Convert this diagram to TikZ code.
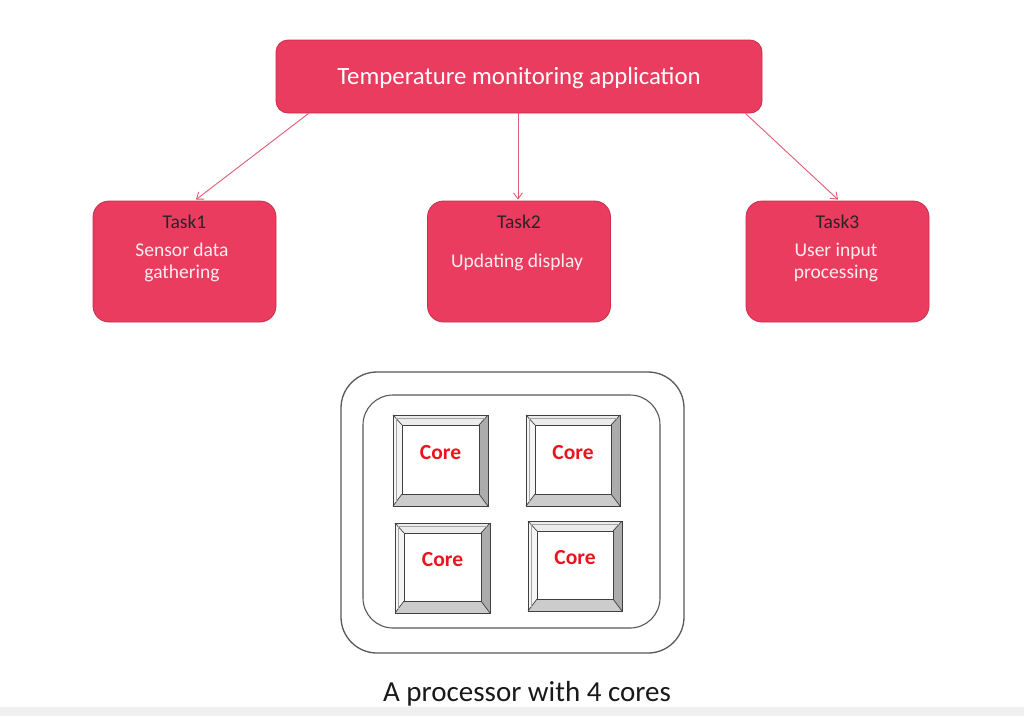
\documentclass[tikz,border=0pt]{standalone}
\usepackage{fontspec}
\setmainfont{Carlito}
\usetikzlibrary{arrows.meta,calc}
\definecolor{boxred}{RGB}{234,60,94}
\definecolor{boxedge}{RGB}{205,45,75}
\definecolor{arrowpink}{RGB}{226,92,114}
\definecolor{txtlight}{RGB}{255,236,240}
\definecolor{coretxt}{RGB}{235,20,30}
\newcommand\corebox[5]{%
  \fill[gray!8]  (#2,#3) -- (#2+9,#3+10) -- (#2+9,#5-12) -- (#2,#5) -- cycle;
  \fill[gray!15] (#2,#3) -- (#4,#3) -- (#4-9,#3+10) -- (#2+9,#3+10) -- cycle;
  \fill[gray!65] (#4,#3) -- (#4,#5) -- (#4-9,#5-12) -- (#4-9,#3+10) -- cycle;
  \fill[gray!40] (#2,#5) -- (#4,#5) -- (#4-9,#5-12) -- (#2+9,#5-12) -- cycle;
  \fill[white] (#2+9,#3+10) rectangle (#4-9,#5-12);
  \draw[coreline] (#2,#3) rectangle (#4,#5);
  \draw[coreline] (#2+9,#3+10) rectangle (#4-9,#5-12);
  \draw[coreline] (#2,#3) -- (#2+9,#3+10) (#4,#3) -- (#4-9,#3+10)
                  (#2,#5) -- (#2+9,#5-12) (#4,#5) -- (#4-9,#5-12);
  \draw[gray!70,line width=0.5pt] (#2+3,#5-3) -- (#2+3,#3+3) -- (#4-3,#3+3);
  \node[coretext] (#1) at ({(#2+#4)/2},{(#3+#5)/2-8}) {Core};
}
\tikzset{
  coreline/.style={draw=black!75,line width=0.7pt},
  coretext/.style={text=coretxt,font=\bfseries\fontsize{21.5}{24}\selectfont,inner sep=0pt},
  mainbox/.style={draw=boxedge,line width=0.8pt,fill=boxred,rounded corners=12pt,
    minimum width=486pt,minimum height=73pt,inner sep=0pt},
  taskbox/.style={draw=boxedge,line width=0.8pt,fill=boxred,rounded corners=16pt,
    minimum width=183pt,minimum height=121pt,inner sep=0pt},
  tasktitle/.style={text=black!85,font=\fontsize{19.5}{22}\selectfont,inner sep=0pt},
  taskbody/.style={text=txtlight,font=\fontsize{19.5}{22}\selectfont,align=center,inner sep=0pt},
  arr/.style={draw=arrowpink,line width=0.9pt,-{Straight Barb[length=6pt,width=9pt]}},
  procouter/.style={draw=black!65,line width=1.3pt,rounded corners=36pt},
  procinner/.style={draw=black!65,line width=1.1pt,rounded corners=30pt},
}
\begin{document}
\begin{tikzpicture}[x=1pt,y=-1pt]
\useasboundingbox (0,0) rectangle (1024,716);
\fill[white] (0,0) rectangle (1024,716);
\fill[gray!12] (0,707) rectangle (1024,716);

% top box
\node[mainbox] (top) at (519,76.5) {};
\node[text=white,font=\fontsize{24.8}{27}\selectfont,inner sep=0pt] (toptxt) at (519,78) {Temperature monitoring application};

% task boxes
\node[taskbox] (t1) at (184.5,261.5) {};
\node[taskbox] (t2) at (519,261.5) {};
\node[taskbox] (t3) at (837.5,261.5) {};
\node[tasktitle] (t1a) at (184.5,222) {Task1};
\node[taskbody] (t1b) at (182,262) {Sensor data\\gathering};
\node[tasktitle] (t2a) at (519,222) {Task2};
\node[taskbody] (t2b) at (517,262) {Updating display};
\node[tasktitle] (t3a) at (837.5,222) {Task3};
\node[taskbody] (t3b) at (836,262) {User input\\processing};

% connectors
\draw[arr] ($(top.south west)+(33,0)$) -- ($(t1.north)+(11.5,-1)$);
\draw[arr] ($(top.south)+(-1,0)$) -- ($(t2.north)+(-1,-1)$);
\draw[arr] ($(top.south east)+(-17,0)$) -- ($(t3.north)+(0.5,-1)$);

% processor
\draw[procouter] (341,372) rectangle (684,653);
\draw[procinner] (363,395) rectangle (660,628);
\corebox{c1}{393}{415}{488}{506}
\corebox{c2}{526}{415}{620}{506}
\corebox{c3}{395}{523}{490}{613}
\corebox{c4}{528}{521}{622}{611}

\node[text=black!90,font=\fontsize{29}{32}\selectfont,inner sep=0pt] (cap) at (527,694) {A processor with 4 cores};
\end{tikzpicture}
\end{document}
